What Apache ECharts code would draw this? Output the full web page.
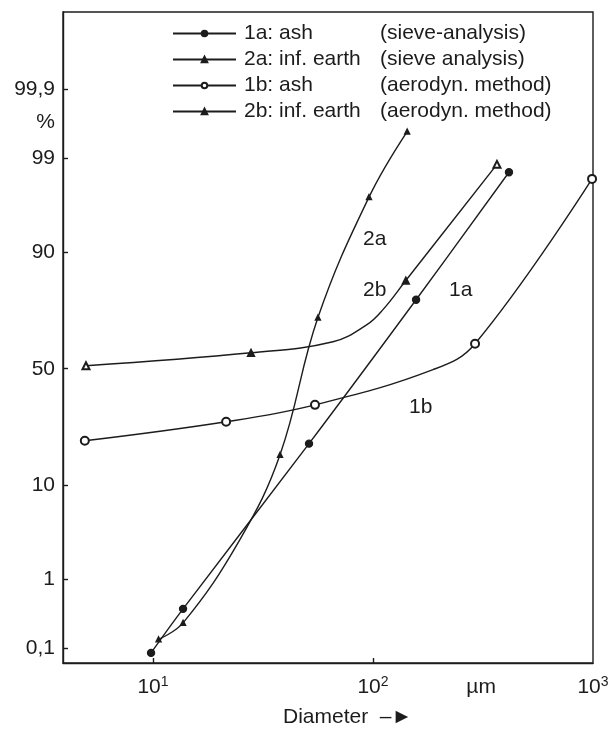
<!DOCTYPE html>
<html><head><meta charset="utf-8">
<script src="https://cdn.jsdelivr.net/npm/echarts@6/dist/echarts.min.js"></script>
<style>html,body{margin:0;padding:0;background:#fff}#c{width:614px;height:730px}</style>
</head><body><div id="c"></div>
<script>
// ---- data: diameter (µm), cumulative % ; mark = 1 where a measured marker is drawn ----
const d1a = [9.8, 13.7, 51.2, 157, 415];
const p1a = [0.085, 0.40, 20.4, 77.7, 98.5];
const m1a = [1, 1, 1, 1, 1];
const d2a = [10.6, 13.7, 24.8, 37.8, 56.2, 95.9, 143];
const p2a = [0.14, 0.25, 2.94, 17.1, 71.4, 97.1, 99.56];
const m2a = [1, 1, 0, 1, 1, 1, 1];
const d1b = [4.9, 21.5, 54.5, 187.4, 291, 990];
const p1b = [21.3, 27.9, 34.5, 49.6, 60.9, 98.2];
const m1b = [1, 1, 1, 0, 1, 1];
const d2b = [4.96, 27.9, 65.8, 93.9, 111, 141, 366];
const p2b = [51.3, 57.0, 61.7, 68.7, 74.3, 83.5, 98.8];
const m2b = [2, 1, 0, 0, 0, 1, 2];
const seriesNames = ['1a', '2a', '1b', '2b'];
const legendA = ['1a: ash', '2a: inf. earth', '1b: ash', '2b: inf. earth'];
const legendB = ['(sieve-analysis)', '(sieve analysis)', '(aerodyn. method)', '(aerodyn. method)'];
const yTickValues = [0.1, 1, 10, 50, 90, 99, 99.9];
const yTickLabels = ['0,1', '1', '10', '50', '90', '99', '99,9'];
const yUnitPos = 99.68;   // where the "%" unit sits on the axis
const xTickValues = [10, 100, 1000];
const xTickLabels = ['{b|10}{s|1}', '{b|10}{s|2}', '{b|10}{s|3}'];
const xUnitPos = 310;

// inverse normal CDF (Acklam) -> probability-paper scale
function probit(pct) {
  const p = pct / 100;
  const a = [-3.969683028665376e+01, 2.209460984245205e+02, -2.759285104469687e+02, 1.383577518672690e+02, -3.066479806614716e+01, 2.506628277459239e+00];
  const b = [-5.447609879822406e+01, 1.615858368580409e+02, -1.556989798598866e+02, 6.680131188771972e+01, -1.328068155288572e+01];
  const c = [-7.784894002430293e-03, -3.223964580411365e-01, -2.400758277161838e+00, -2.549732539343734e+00, 4.374664141464968e+00, 2.938163982698783e+00];
  const d = [7.784695709041462e-03, 3.224671290700398e-01, 2.445134137142996e+00, 3.754408661907416e+00];
  const pl = 0.02425, ph = 1 - pl;
  let q, r;
  if (p < pl) { q = Math.sqrt(-2 * Math.log(p)); return (((((c[0]*q+c[1])*q+c[2])*q+c[3])*q+c[4])*q+c[5]) / ((((d[0]*q+d[1])*q+d[2])*q+d[3])*q+1); }
  if (p <= ph) { q = p - 0.5; r = q*q; return (((((a[0]*r+a[1])*r+a[2])*r+a[3])*r+a[4])*r+a[5])*q / (((((b[0]*r+b[1])*r+b[2])*r+b[3])*r+b[4])*r+1); }
  q = Math.sqrt(-2 * Math.log(1 - p)); return -(((((c[0]*q+c[1])*q+c[2])*q+c[3])*q+c[4])*q+c[5]) / ((((d[0]*q+d[1])*q+d[2])*q+d[3])*q+1);
}

const FONT = '"Liberation Sans", Arial, sans-serif';
const INK = '#1c1c1c';
const FS = 21;

const yLabelVals = yTickValues.map(probit).concat([probit(yUnitPos)]);
const yLabelTexts = yTickLabels.concat(['%']);

function mkSeries(name, xs, ps, marks, symbol, alt, size) {
  const data = xs.map((x, i) => ({
    value: [x, probit(ps[i])],
    symbol: marks[i] === 0 ? 'none' : (marks[i] === 2 ? alt : symbol)
  }));
  return {
    name: name, type: 'line', data: data,
    smooth: 0.4, smoothConstraint: false, symbol: symbol, symbolSize: size, showAllSymbol: true,
    lineStyle: { color: INK, width: 1.4 },
    itemStyle: { color: INK, borderColor: INK, borderWidth: 1.4 },
    emphasis: { disabled: true }, animation: false, clip: false, z: 3
  };
}

const chart = echarts.init(document.getElementById('c'), null, { renderer: 'canvas' });
chart.setOption({
  backgroundColor: '#fff',
  animation: false,
  textStyle: { fontFamily: FONT, color: INK },
  grid: { left: 63, right: 21, top: 12, bottom: 67, show: true, borderColor: INK, borderWidth: 1.4, backgroundColor: 'transparent' },
  legend: {
    orient: 'vertical', left: 167, top: 18, itemWidth: 63, itemHeight: 7, itemGap: 5,
    data: seriesNames,
    formatter: function (name) { const i = seriesNames.indexOf(name); return '{a|' + legendA[i] + '}{b|' + legendB[i] + '}'; },
    textStyle: { fontFamily: FONT, color: INK, fontSize: FS, lineHeight: 21,
      rich: { a: { width: 136, fontSize: FS, fontFamily: FONT, color: INK, padding: [0, 0, 0, 3] }, b: { fontSize: FS, fontFamily: FONT, color: INK } } },
    selectedMode: false
  },
  xAxis: {
    type: 'log', logBase: 10, min: 3.9, max: 1000,
    axisLine: { onZero: false, lineStyle: { color: INK, width: 1.4 } },
    splitLine: { show: false },
    axisTick: { inside: true, length: 5, customValues: [10, 100], lineStyle: { color: INK, width: 1.4 } },
    axisLabel: {
      customValues: xTickValues.concat([xUnitPos]), margin: 12, color: INK, fontFamily: FONT,
      formatter: function (v) { const i = xTickValues.findIndex(t => Math.abs(t - v) / t < 1e-6); return i >= 0 ? xTickLabels[i] : '{b|µm}'; },
      rich: { b: { fontSize: FS, fontFamily: FONT, color: INK, lineHeight: 24 }, s: { fontSize: 14, fontFamily: FONT, color: INK, verticalAlign: 'top', lineHeight: 16 } }
    }
  },
  yAxis: {
    type: 'value', min: -3.25, max: 3.94,
    axisLine: { show: true, onZero: false, lineStyle: { color: INK, width: 1.4 } },
    splitLine: { show: false },
    axisTick: { show: true, inside: true, length: 5, customValues: yTickValues.map(probit), lineStyle: { color: INK, width: 1.4 } },
    axisLabel: {
      customValues: yLabelVals, margin: 8, color: INK, fontFamily: FONT, fontSize: FS,
      formatter: function (v) { const i = yLabelVals.findIndex(t => Math.abs(t - v) < 1e-6); return i >= 0 ? yLabelTexts[i] : ''; }
    }
  },
  graphic: [
    { type: 'text', left: 363, top: 229, style: { text: '2a', font: FS + 'px ' + FONT, fill: INK } },
    { type: 'text', left: 363, top: 280, style: { text: '2b', font: FS + 'px ' + FONT, fill: INK } },
    { type: 'text', left: 449, top: 280, style: { text: '1a', font: FS + 'px ' + FONT, fill: INK } },
    { type: 'text', left: 409, top: 397, style: { text: '1b', font: FS + 'px ' + FONT, fill: INK } },
    { type: 'text', left: 283, top: 707, style: { text: 'Diameter  \u2013\u25BA', font: FS + 'px ' + FONT, fill: INK } }
  ],
  series: [
    mkSeries('1a', d1a, p1a, m1a, 'circle', 'circle', 7),
    mkSeries('2a', d2a, p2a, m2a, 'triangle', 'triangle', 5),
    mkSeries('1b', d1b, p1b, m1b, 'emptyCircle', 'emptyCircle', 8),
    mkSeries('2b', d2b, p2b, m2b, 'triangle', 'emptyTriangle', 7)
  ]
});
</script></body></html>
